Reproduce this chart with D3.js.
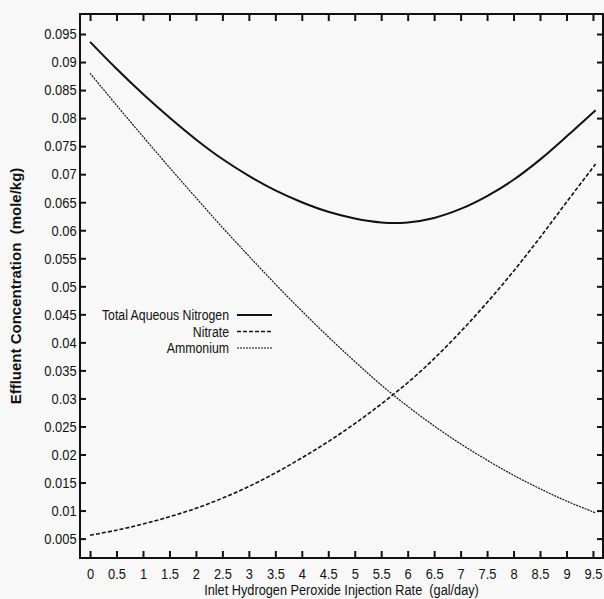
<!DOCTYPE html>
<html>
<head>
<meta charset="utf-8">
<script src="https://cdn.jsdelivr.net/npm/d3@7"></script>
<style>
  body { margin: 0; background: #f8f8f8; }
  svg { display: block; }
  text { font-family: "Liberation Sans", Arial, sans-serif; fill: #111; }
</style>
</head>
<body>
<script>
// Data
var injectionRate = [0, 0.5, 1, 1.5, 2, 2.5, 3, 3.5, 4, 4.5, 5, 5.5, 6, 6.5, 7, 7.5, 8, 8.5, 9, 9.55];
var totalNitrogen = [0.0936, 0.0888, 0.0843, 0.0801, 0.0762, 0.0727, 0.0697, 0.0671, 0.0650, 0.0633, 0.0621, 0.0614, 0.0614, 0.0622, 0.0638, 0.0661, 0.0690, 0.0726, 0.0767, 0.0814];
var nitrate = [0.0056, 0.0065, 0.0076, 0.0089, 0.0104, 0.0122, 0.0143, 0.0167, 0.0194, 0.0223, 0.0255, 0.0290, 0.0328, 0.0371, 0.0419, 0.0471, 0.0527, 0.0587, 0.0650, 0.0718];
var ammonium = [0.0880, 0.0823, 0.0767, 0.0712, 0.0658, 0.0605, 0.0554, 0.0504, 0.0456, 0.0410, 0.0366, 0.0324, 0.0286, 0.0251, 0.0219, 0.0190, 0.0163, 0.0139, 0.0117, 0.0096];

var seriesNames = ["Total Aqueous Nitrogen", "Nitrate", "Ammonium"];
var xTicks = [0, 0.5, 1, 1.5, 2, 2.5, 3, 3.5, 4, 4.5, 5, 5.5, 6, 6.5, 7, 7.5, 8, 8.5, 9, 9.5];
var yTicks = [0.005, 0.01, 0.015, 0.02, 0.025, 0.03, 0.035, 0.04, 0.045, 0.05, 0.055, 0.06, 0.065, 0.07, 0.075, 0.08, 0.085, 0.09, 0.095];

// SVG area
var svgWidth = 604;
var svgHeight = 599;
var chartMargin = { top: 14, right: 1, bottom: 41, left: 80 };
var chartWidth = svgWidth - chartMargin.left - chartMargin.right;
var chartHeight = svgHeight - chartMargin.top - chartMargin.bottom;

var svg = d3.select("body")
  .append("svg")
  .attr("width", svgWidth)
  .attr("height", svgHeight);

var chartGroup = svg.append("g")
  .attr("transform", `translate(${chartMargin.left}, ${chartMargin.top})`);

// Scales
var xScale = d3.scaleLinear()
  .domain([-0.19, 9.69])
  .range([0, chartWidth]);

var yScale = d3.scaleLinear()
  .domain([0.00154, 0.09857])
  .range([chartHeight, 0]);

var fmt = d3.format("~g");

// Axes, ticks pointing inward on all four sides
var bottomAxis = chartGroup.append("g")
  .attr("class", "axis")
  .attr("transform", `translate(0, ${chartHeight})`)
  .call(d3.axisBottom(xScale).tickValues(xTicks).tickSizeInner(-7).tickSizeOuter(0).tickPadding(10).tickFormat(fmt));

chartGroup.append("g")
  .attr("class", "axis")
  .call(d3.axisTop(xScale).tickValues(xTicks).tickSizeInner(-7).tickSizeOuter(0).tickFormat(""));

var leftAxis = chartGroup.append("g")
  .attr("class", "axis")
  .call(d3.axisLeft(yScale).tickValues(yTicks).tickSizeInner(-6).tickSizeOuter(0).tickPadding(4).tickFormat(fmt));

chartGroup.append("g")
  .attr("class", "axis")
  .attr("transform", `translate(${chartWidth}, 0)`)
  .call(d3.axisRight(yScale).tickValues(yTicks).tickSizeInner(-6).tickSizeOuter(0).tickFormat(""));

chartGroup.selectAll(".axis .domain").remove();
chartGroup.selectAll(".axis line").attr("stroke", "#111").attr("stroke-width", 2);
chartGroup.selectAll(".axis text")
  .style("font-family", "\"Liberation Sans\", Arial, sans-serif")
  .style("font-size", "15px")
  .attr("fill", "#111")
  .attr("transform", "scale(0.86, 1)");

// Frame
chartGroup.append("rect")
  .attr("x", 0)
  .attr("y", 0)
  .attr("width", chartWidth)
  .attr("height", chartHeight)
  .attr("fill", "none")
  .attr("stroke", "#111")
  .attr("stroke-width", 2);

// Lines
var styles = [
  { data: totalNitrogen, width: 2, dash: null },
  { data: nitrate, width: 1.6, dash: "4,2" },
  { data: ammonium, width: 1.2, dash: "2,1" }
];

var line = d3.line()
  .x((d, i) => xScale(injectionRate[i]))
  .y(d => yScale(d))
  .curve(d3.curveCatmullRom);

styles.forEach(function(s) {
  chartGroup.append("path")
    .datum(s.data)
    .attr("fill", "none")
    .attr("stroke", "#111")
    .attr("stroke-width", s.width)
    .attr("stroke-dasharray", s.dash)
    .attr("d", line);
});

// Legend
var legend = svg.append("g")
  .attr("transform", "translate(229, 315)");

seriesNames.forEach(function(name, i) {
  legend.append("text")
    .attr("transform", `translate(0, ${i * 16.5}) scale(0.82, 1)`)
    .attr("dy", "0.35em")
    .attr("text-anchor", "end")
    .style("font-size", "15px")
    .text(name);
  legend.append("line")
    .attr("x1", 8)
    .attr("x2", 43)
    .attr("y1", i * 16.5)
    .attr("y2", i * 16.5)
    .attr("stroke", "#111")
    .attr("stroke-width", styles[i].width)
    .attr("stroke-dasharray", styles[i].dash);
});

// Axis titles
svg.append("text")
  .attr("transform", `translate(${chartMargin.left + chartWidth / 2}, 595) scale(0.85, 1)`)
  .attr("text-anchor", "middle")
  .style("font-size", "15px")
  .style("white-space", "pre")
  .text("Inlet Hydrogen Peroxide Injection Rate  (gal/day)");

svg.append("text")
  .attr("transform", "translate(21, 286) rotate(-90)")
  .attr("text-anchor", "middle")
  .style("font-size", "15px")
  .style("font-weight", "bold")
  .style("white-space", "pre")
  .text("Effluent Concentration  (mole/kg)");
</script>
</body>
</html>
